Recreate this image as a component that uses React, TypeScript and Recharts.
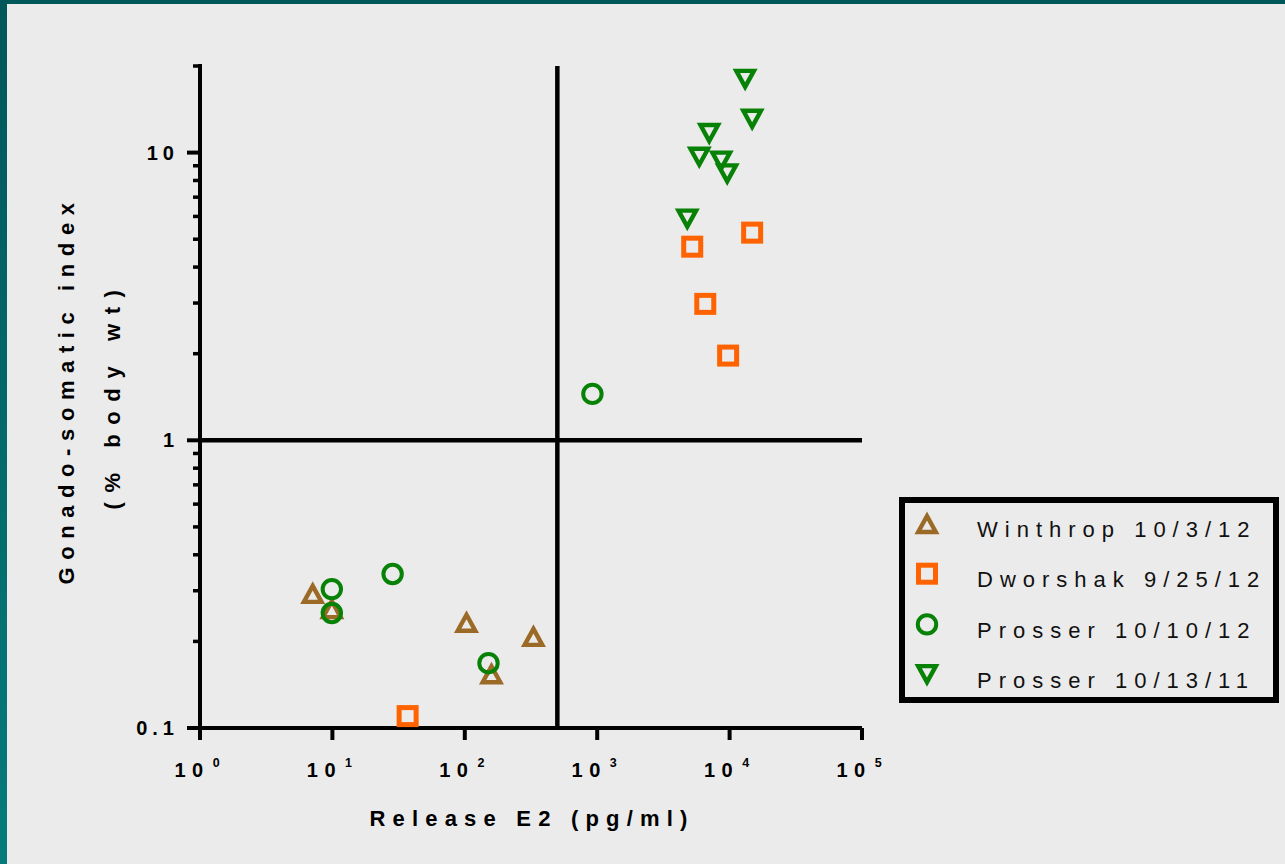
import React from 'react';
import { ScatterChart, Scatter, XAxis, YAxis, ReferenceLine, Legend } from 'recharts';

// values
const winthrop = [
  { x: 7.1, y: 0.295 },
  { x: 9.9, y: 0.261 },
  { x: 103, y: 0.234 },
  { x: 330, y: 0.209 },
  { x: 159, y: 0.155 },
];

const dworshak = [
  { x: 37, y: 0.11 },
  { x: 5220, y: 4.71 },
  { x: 6550, y: 2.98 },
  { x: 9750, y: 1.97 },
  { x: 14800, y: 5.27 },
];

const prosser12 = [
  { x: 9.9, y: 0.304 },
  { x: 9.9, y: 0.251 },
  { x: 28.5, y: 0.343 },
  { x: 151, y: 0.168 },
  { x: 920, y: 1.45 },
];

const prosser11 = [
  { x: 4790, y: 5.85 },
  { x: 5900, y: 9.6 },
  { x: 7020, y: 11.6 },
  { x: 8640, y: 9.3 },
  { x: 9590, y: 8.4 },
  { x: 13100, y: 17.9 },
  { x: 14800, y: 13.0 },
];

const xTicks = [1, 10, 100, 1000, 10000, 100000];
const yTicks = [
  0.1, 0.2, 0.3, 0.4, 0.5, 0.6, 0.7, 0.8, 0.9,
  1, 2, 3, 4, 5, 6, 7, 8, 9,
  10, 20,
];
const xDomain = [1, 100000];
const yDomain = [0.1, 20];
const cutoffX = 500;
const cutoffY = 1;

const BROWN = '#9b6a26';
const ORANGE = '#ff6200';
const GREEN = '#078207';

const FONT = '"Liberation Sans", Arial, Helvetica, sans-serif';

type Sym = 'up' | 'square' | 'circle' | 'down';

const series: { name: string; data: { x: number; y: number }[]; color: string; sym: Sym }[] = [
  { name: 'Winthrop 10/3/12', data: winthrop, color: BROWN, sym: 'up' },
  { name: 'Dworshak 9/25/12', data: dworshak, color: ORANGE, sym: 'square' },
  { name: 'Prosser 10/10/12', data: prosser12, color: GREEN, sym: 'circle' },
  { name: 'Prosser 10/13/11', data: prosser11, color: GREEN, sym: 'down' },
];

function Marker({ cx, cy, color, sym }: { cx: number; cy: number; color: string; sym: Sym }) {
  if (cx == null || cy == null) return null;
  if (sym === 'square') {
    return <rect x={cx - 8.5} y={cy - 8.5} width={17} height={17} fill="none" stroke={color} strokeWidth={5} />;
  }
  if (sym === 'circle') {
    return <circle cx={cx} cy={cy} r={9.2} fill="none" stroke={color} strokeWidth={4} />;
  }
  const d =
    sym === 'up'
      ? `M${cx},${cy - 7} L${cx + 8.8},${cy + 9} L${cx - 8.8},${cy + 9} Z`
      : `M${cx},${cy + 7} L${cx + 8.8},${cy - 9} L${cx - 8.8},${cy - 9} Z`;
  return <path d={d} fill="none" stroke={color} strokeWidth={4.4} strokeLinejoin="miter" />;
}

const isDecade = (v: number) => Math.abs(Math.log10(v) - Math.round(Math.log10(v))) < 1e-6;

function YTick(props: any) {
  const { x, y, payload } = props;
  const v = payload.value;
  const major = isDecade(v);
  return (
    <g>
      <line x1={x} x2={x - (major ? 13 : 7)} y1={y} y2={y} stroke="#000" strokeWidth={major ? 4 : 3.5} />
      {major && (
        <text
          x={x - 21}
          y={y + 7}
          textAnchor="end"
          fontFamily={FONT}
          fontWeight="bold"
          fontSize={20}
          letterSpacing={5}
          fill="#000"
        >
          {v < 1 ? '0.1' : String(v)}
        </text>
      )}
    </g>
  );
}

function XTick(props: any) {
  const { x, y, payload } = props;
  const exp = Math.round(Math.log10(payload.value));
  return (
    <g>
      <line x1={x} x2={x} y1={y} y2={y + 12} stroke="#000" strokeWidth={4} />
      <text
        x={x - 3}
        y={y + 49}
        textAnchor="middle"
        fontFamily={FONT}
        fontWeight="bold"
        fontSize={20}
        fill="#000"
      >
        <tspan letterSpacing={6.5}>10</tspan>
        <tspan dx={3} dy={-10} fontSize={12.5}>
          {exp}
        </tspan>
      </text>
    </g>
  );
}

function XTitle() {
  return (
    <text
      x={532}
      y={826}
      textAnchor="middle"
      fontFamily={FONT}
      fontWeight="bold"
      fontSize={22}
      letterSpacing={7.2}
      fill="#000"
    >
      Release E2 (pg/ml)
    </text>
  );
}

function YTitle() {
  return (
    <g fontFamily={FONT} fontWeight="bold" fontSize={22} fill="#000">
      <text transform="translate(74,390) rotate(-90)" textAnchor="middle" letterSpacing={7.6}>
        Gonado-somatic index
      </text>
      <text transform="translate(120,395) rotate(-90)" textAnchor="middle" letterSpacing={9.6}>
        (% body wt)
      </text>
    </g>
  );
}

function LegendBox() {
  return (
    <svg width={380} height={206} style={{ display: 'block' }}>
      <rect x={3} y={3} width={374} height={200} fill="#ebebeb" stroke="#000" strokeWidth={6} />
      {series.map((s, i) => (
        <g key={s.name}>
          <Marker cx={28} cy={26 + i * 50.7} color={s.color} sym={s.sym} />
          <text
            x={78}
            y={40 + i * 50.3}
            fontFamily={FONT}
            fontSize={22}
            letterSpacing={7}
            fill="#111"
          >
            {s.name}
          </text>
        </g>
      ))}
    </svg>
  );
}

export default function App() {
  return (
    <div
      style={{
        position: 'fixed',
        left: 0,
        top: 0,
        width: 1285,
        height: 864,
        background: 'linear-gradient(to bottom, #00575a, #067b7b)',
        overflow: 'hidden',
      }}
    >
      <div style={{ position: 'absolute', left: 7, top: 4, right: 0, bottom: 0, background: '#ebebeb' }} />
      <div style={{ position: 'absolute', left: 0, top: 0 }}>
        <ScatterChart width={1285} height={864} margin={{ top: 66, right: 423, bottom: 106, left: 140 }}>
          <XAxis
            type="number"
            dataKey="x"
            scale="log"
            domain={xDomain}
            allowDataOverflow
            ticks={xTicks}
            interval={0}
            height={30}
            tickSize={0}
            tickMargin={0}
            tickLine={false}
            tick={<XTick />}
            axisLine={{ stroke: '#000', strokeWidth: 4 }}
            label={<XTitle />}
          />
          <YAxis
            type="number"
            dataKey="y"
            scale="log"
            domain={yDomain}
            allowDataOverflow
            ticks={yTicks}
            interval={0}
            width={60}
            tickSize={0}
            tickMargin={0}
            tickLine={false}
            tick={<YTick />}
            axisLine={{ stroke: '#000', strokeWidth: 4, strokeLinecap: 'square' }}
            label={<YTitle />}
          />
          <ReferenceLine x={cutoffX} stroke="#000" strokeWidth={4.5} />
          <ReferenceLine y={cutoffY} stroke="#000" strokeWidth={4.5} />
          {series.map((s) => (
            <Scatter
              key={s.name}
              name={s.name}
              data={s.data}
              isAnimationActive={false}
              shape={(p: any) => <Marker cx={p.cx} cy={p.cy} color={s.color} sym={s.sym} />}
            />
          ))}
          <Legend
            layout="vertical"
            align="center"
            verticalAlign="middle"
            wrapperStyle={{ left: 899, top: 497, width: 380, height: 206 }}
            content={() => <LegendBox />}
          />
        </ScatterChart>
      </div>
    </div>
  );
}
